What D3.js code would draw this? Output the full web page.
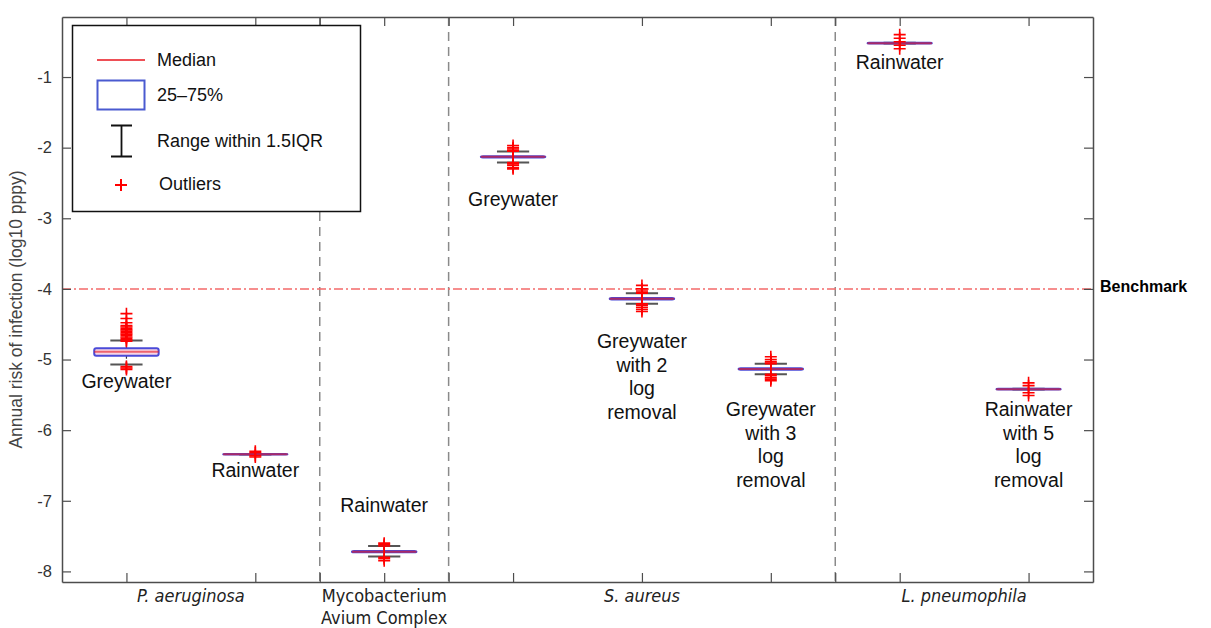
<!DOCTYPE html>
<html>
<head>
<meta charset="utf-8">
<script src="https://cdn.jsdelivr.net/npm/d3@7"></script>
<style>
  body { margin: 0; background: #fff; }
  text { font-family: Arial, "Liberation Sans", sans-serif; }
</style>
</head>
<body>
<div id="chart"></div>
<script>
// box positions (x slot) and summary stats, log10 pppy
const positions = [1, 3, 5, 7, 9, 11, 13, 15];
const medians   = [-4.89, -6.34, -7.72, -2.13, -4.14, -5.135, -0.52, -5.42];
const q1        = [-4.945, -6.343, -7.73, -2.14, -4.15, -5.145, -0.525, -5.425];
const q3        = [-4.84, -6.337, -7.71, -2.12, -4.13, -5.125, -0.515, -5.415];
const whiskLo   = [-5.07, -6.344, -7.79, -2.21, -4.21, -5.21, -0.526, -5.426];
const whiskHi   = [-4.73, -6.336, -7.64, -2.055, -4.06, -5.06, -0.514, -5.414];
const outliers  = [
    [-4.35, -4.42, -4.48, -4.52, -4.54, -4.56, -4.58, -4.60, -4.62, -4.64, -4.66, -4.68, -4.70, -4.72, -4.74, -5.10, -5.12, -5.14],
    [-6.30, -6.32, -6.36, -6.38],
    [-7.60, -7.62, -7.64, -7.80, -7.82, -7.85],
    [-1.97, -2.00, -2.02, -2.04, -2.05, -2.21, -2.23, -2.25, -2.28, -2.30],
    [-3.95, -4.00, -4.03, -4.05, -4.06, -4.21, -4.23, -4.26, -4.29, -4.32],
    [-4.96, -5.00, -5.03, -5.05, -5.06, -5.21, -5.23, -5.26, -5.28, -5.30],
    [-0.40, -0.45, -0.50, -0.55, -0.60],
    [-5.33, -5.37, -5.47, -5.51]
];
const boxLabels = [
    ["Greywater"], ["Rainwater"], ["Rainwater"], ["Greywater"],
    ["Greywater", "with 2", "log", "removal"],
    ["Greywater", "with 3", "log", "removal"],
    ["Rainwater"],
    ["Rainwater", "with 5", "log", "removal"]
];
const boxLabelY = [-5.41, -6.67, -7.16, -2.82, -4.84, -5.80, -0.88, -5.80];

const groups = [
    {name: ["P. aeruginosa"], at: 2, italic: true},
    {name: ["Mycobacterium", "Avium Complex"], at: 5, italic: false},
    {name: ["S. aureus"], at: 9, italic: true},
    {name: ["L. pneumophila"], at: 14, italic: true}
];
const separators = [4, 6, 12];
const xTicks = [1, 3, 4, 5, 6, 7, 9, 11, 12, 13, 15];
const yTicks = [-8, -7, -6, -5, -4, -3, -2, -1];
const benchmark = -4;

const width = 1211, height = 628;
const margin = {top: 17, right: 118, bottom: 46, left: 62};

const svg = d3.select("#chart").append("svg")
    .attr("width", width)
    .attr("height", height);

const x = d3.scaleLinear().domain([0, 16]).range([margin.left, width - margin.right]);
const y = d3.scaleLinear().domain([-8.15, -0.15]).range([height - margin.bottom, margin.top]);
const axisColor = "#4d4d4d";

// separators
svg.append("g").selectAll("line")
    .data(separators)
    .enter().append("line")
    .attr("x1", d => x(d)).attr("x2", d => x(d))
    .attr("y1", y.range()[1]).attr("y2", y.range()[0])
    .attr("stroke", "#8a8a8a")
    .attr("stroke-width", 1.5)
    .attr("stroke-dasharray", "9,6");

// benchmark line
svg.append("line")
    .attr("x1", x(0)).attr("x2", x(16))
    .attr("y1", y(benchmark)).attr("y2", y(benchmark))
    .attr("stroke", "#f46a6a")
    .attr("stroke-width", 1.5)
    .attr("stroke-dasharray", "9,3,2,3");
svg.append("text")
    .attr("x", x(16) + 7)
    .attr("y", y(benchmark))
    .attr("dy", "0.2em")
    .style("font-size", "16px")
    .style("font-weight", "bold")
    .text("Benchmark");

// axes, ticks pointing inward like the original
function styleAxis(g) {
    g.select(".domain").attr("stroke", axisColor).attr("stroke-width", 1.5);
    g.selectAll(".tick line").attr("stroke", axisColor).attr("stroke-width", 1.2);
}
svg.append("g")
    .attr("transform", `translate(${x(0)},0)`)
    .call(d3.axisLeft(y).tickValues(yTicks).tickSize(-9).tickPadding(8).tickSizeOuter(0)
        .tickFormat(d => String(d)))
    .call(styleAxis)
    .call(g => g.selectAll("text").style("font-size", "16.5px").attr("fill", "#333").attr("x", -10));
svg.append("g")
    .attr("transform", `translate(${x(16)},0)`)
    .call(d3.axisRight(y).tickValues(yTicks).tickSize(-9).tickSizeOuter(0).tickFormat(""))
    .call(styleAxis);
svg.append("g")
    .attr("transform", `translate(0,${y(-8.15)})`)
    .call(d3.axisBottom(x).tickValues(xTicks).tickSize(-9).tickSizeOuter(0).tickFormat(""))
    .call(styleAxis);
svg.append("g")
    .attr("transform", `translate(0,${y(-0.15)})`)
    .call(d3.axisTop(x).tickValues(xTicks).tickSize(-9).tickSizeOuter(0).tickFormat(""))
    .call(styleAxis);

// y title
svg.append("text")
    .attr("transform", `translate(24,${(y.range()[0] + y.range()[1]) / 2 + 10}) rotate(-90)`)
    .attr("text-anchor", "middle")
    .attr("dy", "-0.1em")
    .style("font-size", "17.5px")
    .attr("fill", "#444")
    .text("Annual risk of infection (log10 pppy)");

// group names under the axis
const gl = svg.append("g").selectAll("text")
    .data(groups)
    .enter().append("text")
    .attr("x", d => x(d.at))
    .attr("y", y(-8.15) + 20)
    .attr("text-anchor", "middle")
    .style("font-size", "18px")
    .style("font-family", "'Liberation Sans Narrow', 'DejaVu Sans Condensed', Arial, sans-serif")
    .style("font-style", d => d.italic ? "italic" : "normal")
    .attr("fill", "#222");
gl.each(function (d) {
    d3.select(this).selectAll("tspan")
        .data(d.name)
        .enter().append("tspan")
        .attr("x", x(d.at))
        .attr("dy", (t, i) => i ? 21.5 : 0)
        .text(t => t);
});

// boxes
const boxW = 1.0, capW = 0.5;
const boxes = svg.append("g").selectAll("g")
    .data(positions.map((p, i) => ({p, i})))
    .enter().append("g");

boxes.each(function (d) {
    const g = d3.select(this), i = d.i, p = d.p;
    // whiskers
    g.append("line")
        .attr("x1", x(p)).attr("x2", x(p))
        .attr("y1", y(q3[i])).attr("y2", y(whiskHi[i]))
        .attr("stroke", "#333").attr("stroke-width", 1.2).attr("stroke-dasharray", "3,2");
    g.append("line")
        .attr("x1", x(p)).attr("x2", x(p))
        .attr("y1", y(q1[i])).attr("y2", y(whiskLo[i]))
        .attr("stroke", "#333").attr("stroke-width", 1.2).attr("stroke-dasharray", "3,2");
    [whiskHi[i], whiskLo[i]].forEach(v => {
        g.append("line")
            .attr("x1", x(p - capW / 2)).attr("x2", x(p + capW / 2))
            .attr("y1", y(v)).attr("y2", y(v))
            .attr("stroke", "#555").attr("stroke-width", 2);
    });
    // box
    g.append("rect")
        .attr("x", x(p - boxW / 2))
        .attr("y", y(q3[i]))
        .attr("width", x(p + boxW / 2) - x(p - boxW / 2))
        .attr("height", Math.max(y(q1[i]) - y(q3[i]), 0.5))
        .attr("rx", 2)
        .attr("fill", "#f6d6e6")
        .attr("stroke", "#4a4ad8")
        .attr("stroke-width", 2);
    // median
    g.append("line")
        .attr("x1", x(p - boxW / 2)).attr("x2", x(p + boxW / 2))
        .attr("y1", y(medians[i])).attr("y2", y(medians[i]))
        .attr("stroke", "#e8141e").attr("stroke-opacity", 0.6).attr("stroke-width", 2);
    // outliers
    g.selectAll("path.out")
        .data(outliers[i])
        .enter().append("path")
        .attr("class", "out")
        .attr("d", v => `M${x(p) - 6},${y(v)}H${x(p) + 6}M${x(p)},${y(v) - 6}V${y(v) + 6}`)
        .attr("stroke", "#ff0000")
        .attr("stroke-width", 1.6)
        .attr("fill", "none");
});

// labels near boxes
const bl = svg.append("g").selectAll("text")
    .data(boxLabels)
    .enter().append("text")
    .attr("x", (d, i) => x(positions[i]))
    .attr("y", (d, i) => y(boxLabelY[i]))
    .attr("text-anchor", "middle")
    .attr("dy", "0.35em")
    .style("font-size", "19.5px")
    .attr("fill", "#111");
bl.each(function (d, i) {
    d3.select(this).selectAll("tspan")
        .data(d)
        .enter().append("tspan")
        .attr("x", x(positions[i]))
        .attr("dy", (t, j) => j ? 23.5 : 0)
        .text(t => t);
});

// legend
const lg = svg.append("g");
lg.append("rect")
    .attr("x", 72.5).attr("y", 25.5)
    .attr("width", 288).attr("height", 186)
    .attr("fill", "#fff")
    .attr("stroke", "#111")
    .attr("stroke-width", 1.5);
lg.append("line")
    .attr("x1", 97).attr("x2", 145).attr("y1", 60).attr("y2", 60)
    .attr("stroke", "#e8141e").attr("stroke-width", 1.6);
lg.append("rect")
    .attr("x", 97.5).attr("y", 80.5).attr("width", 47).attr("height", 29)
    .attr("fill", "none").attr("stroke", "#4a5ad0").attr("stroke-width", 2);
lg.append("path")
    .attr("d", "M111,125.5H132M121.5,125.5V156.5M111,156.5H132")
    .attr("stroke", "#111").attr("stroke-width", 1.8).attr("fill", "none");
lg.append("path")
    .attr("d", "M115,185H127M121,179V191")
    .attr("stroke", "#ff0000").attr("stroke-width", 2).attr("fill", "none");
const legendText = [["Median", 157, 60], ["25–75%", 157, 95], ["Range within 1.5IQR", 157, 141], ["Outliers", 159, 184]];
lg.selectAll("text.lt")
    .data(legendText)
    .enter().append("text")
    .attr("class", "lt")
    .attr("x", d => d[1]).attr("y", d => d[2])
    .attr("dy", "0.35em")
    .style("font-size", "18px")
    .attr("fill", "#111")
    .text(d => d[0]);
</script>
</body>
</html>
